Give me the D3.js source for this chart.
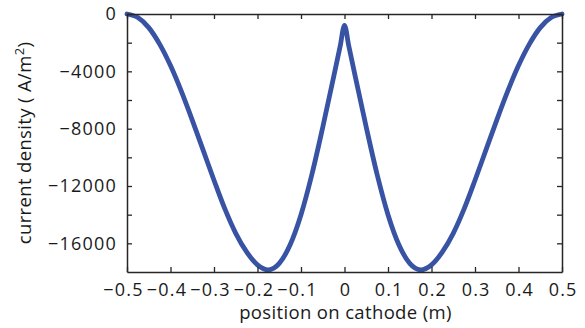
<!DOCTYPE html>
<html>
<head>
<meta charset="utf-8">
<script src="https://cdn.jsdelivr.net/npm/d3@7"></script>
<style>
  body { margin: 0; background: #fff; }
  text { font-family: "Open Sans", sans-serif; }
</style>
</head>
<body>
<svg id="chart" width="585" height="328"></svg>
<script>
// Position along the cathode (m)
const positions = [
  -0.5, -0.475, -0.45, -0.425, -0.4, -0.375, -0.35, -0.325, -0.3, -0.275,
  -0.25, -0.225, -0.2, -0.175, -0.15, -0.125, -0.1, -0.075, -0.05, -0.025,
  -0.01, 0, 0.01,
  0.025, 0.05, 0.075, 0.1, 0.125, 0.15, 0.175, 0.2, 0.225, 0.25,
  0.275, 0.3, 0.325, 0.35, 0.375, 0.4, 0.425, 0.45, 0.475, 0.5
];
// Current density (A/m^2)
const currentDensity = [
  0, -250, -950, -2100, -3600, -5400, -7400, -9500, -11600, -13600,
  -15300, -16600, -17500, -17850, -17400, -16100, -14000, -11200, -7900, -4400,
  -2250, -800, -2250,
  -4400, -7900, -11200, -14000, -16100, -17400, -17850, -17500, -16600, -15300,
  -13600, -11600, -9500, -7400, -5400, -3600, -2100, -950, -250, 0
];
const xTicks = [-0.5, -0.4, -0.3, -0.2, -0.1, 0, 0.1, 0.2, 0.3, 0.4, 0.5];
const yTicks = [0, -2000, -4000, -6000, -8000, -10000, -12000, -14000, -16000];
const yLabelled = [0, -4000, -8000, -12000, -16000];

const svg = d3.select("#chart");
const plotLeft = 127, plotRight = 562, plotTop = 14, plotBottom = 272;

const x = d3.scaleLinear().domain([-0.5, 0.5]).range([plotLeft, plotRight]);
const y = d3.scaleLinear().domain([-18000, 0]).range([plotBottom, plotTop]);

const fmt = d3.format("");
const tick = 5;

function styleAxis(g) {
  g.selectAll(".domain").attr("stroke", "#262626").attr("stroke-width", 1.5);
  g.selectAll(".tick line").attr("stroke", "#262626").attr("stroke-width", 1.3);
  g.selectAll(".tick text")
    .attr("fill", "#1a1a1a")
    .style("font-size", "18px")
    .style("font-family", "'Open Sans', sans-serif")
    .style("letter-spacing", "1.2px");
}

// data curve
const line = d3.line()
  .x((d, i) => x(positions[i]))
  .y(d => y(d))
  .curve(d3.curveMonotoneX);

svg.append("path")
  .datum(currentDensity)
  .attr("d", line)
  .attr("fill", "none")
  .attr("stroke", "#3953a4")
  .attr("stroke-width", 4.8)
  .attr("stroke-linejoin", "round")
  .attr("stroke-linecap", "round");

// bottom axis
svg.append("g")
  .attr("transform", `translate(0,${plotBottom})`)
  .call(d3.axisBottom(x).tickValues(xTicks).tickFormat(fmt)
    .tickSizeInner(-tick).tickSizeOuter(0).tickPadding(11))
  .call(styleAxis)
  .call(g => g.selectAll(".tick text").attr("dx", d => d < 0 ? -4 : 0.6));

// top axis
svg.append("g")
  .attr("transform", `translate(0,${plotTop})`)
  .call(d3.axisTop(x).tickValues(xTicks).tickFormat("")
    .tickSizeInner(-tick).tickSizeOuter(0))
  .call(styleAxis);

// left axis
svg.append("g")
  .attr("transform", `translate(${plotLeft},0)`)
  .call(d3.axisLeft(y).tickValues(yTicks)
    .tickFormat(d => yLabelled.includes(d) ? fmt(d) : "")
    .tickSizeInner(-tick).tickSizeOuter(0).tickPadding(10))
  .call(styleAxis);

// right axis
svg.append("g")
  .attr("transform", `translate(${plotRight},0)`)
  .call(d3.axisRight(y).tickValues(yTicks).tickFormat("")
    .tickSizeInner(-tick).tickSizeOuter(0))
  .call(styleAxis);

// axis titles
svg.append("text")
  .attr("x", (plotLeft + plotRight) / 2 + 1)
  .attr("y", 319)
  .attr("text-anchor", "middle")
  .attr("fill", "#1a1a1a")
  .style("font-size", "18.5px")
  .style("letter-spacing", "0.35px")
  .text("position on cathode (m)");

const yTitle = svg.append("text")
  .attr("transform", `translate(31,${(plotTop + plotBottom) / 2}) rotate(-90)`)
  .attr("text-anchor", "middle")
  .attr("fill", "#1a1a1a")
  .style("font-size", "18.5px")
  .style("letter-spacing", "0.35px");
yTitle.append("tspan").text("current density ( A/m");
yTitle.append("tspan").attr("dy", -7).style("font-size", "13px").text("2");
yTitle.append("tspan").attr("dy", 7).text(")");
</script>
</body>
</html>
